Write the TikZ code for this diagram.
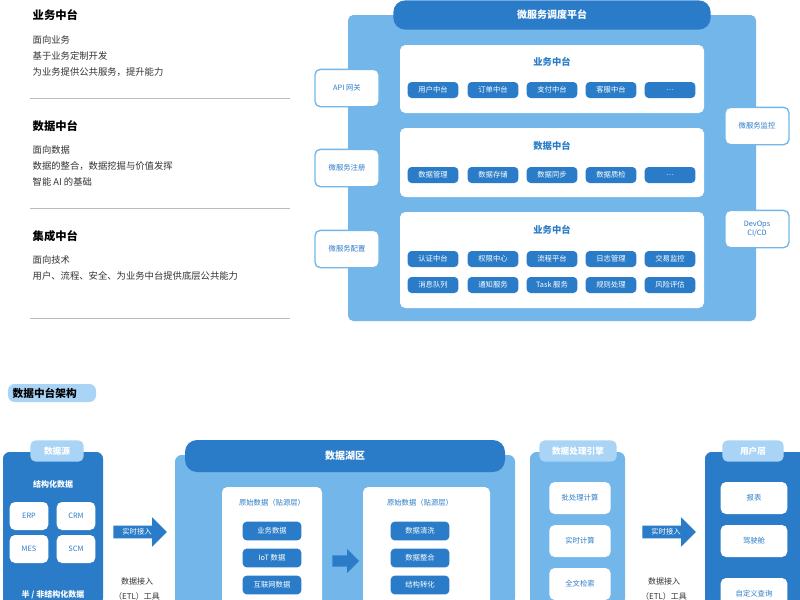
\documentclass[tikz,border=0pt]{standalone}
\usepackage{fontspec}
\setmainfont{Noto Sans CJK SC}
\usetikzlibrary{shapes.arrows}
\definecolor{dk}{HTML}{2A7CC8}
\definecolor{lt}{HTML}{72B6EA}
\definecolor{lt2}{HTML}{A9D4F5}
\definecolor{txt}{HTML}{333333}
\definecolor{gl}{HTML}{BBBBBB}
\begin{document}
\begin{tikzpicture}[x=0.75pt,y=-0.75pt,
 hd/.style={font=\fontsize{8.5}{10}\selectfont\bfseries,text=black,anchor=west},
 bd/.style={font=\fontsize{7}{9}\selectfont,text=txt,anchor=west},
 pill/.style={fill=dk,rounded corners=9pt,text=white,font=\fontsize{7.5}{9}\selectfont\bfseries},
 chip/.style={fill=dk,rounded corners=3pt,minimum width=38pt,minimum height=12pt,inner sep=0pt,text=white,font=\fontsize{5.5}{7}\selectfont},
 wp/.style={fill=white,rounded corners=4pt},
 ptitle/.style={text=dk,font=\fontsize{7}{9}\selectfont\bfseries},
 side/.style={draw=lt,line width=1pt,fill=white,rounded corners=4pt,minimum width=48pt,minimum height=28pt,text=dk,font=\fontsize{5.5}{7}\selectfont,align=center,inner sep=1pt},
 wb/.style={fill=white,rounded corners=4pt,minimum width=46pt,minimum height=24pt,text=dk,font=\fontsize{5.5}{7}\selectfont,inner sep=0pt},
 tab/.style={fill=lt2,rounded corners=4pt,text=white,font=\fontsize{6.5}{8}\selectfont\bfseries,inner sep=0pt},
 arr/.style={single arrow,fill=dk,single arrow head extend=5pt,minimum height=40pt,minimum width=22pt,inner sep=1pt,text=white,font=\fontsize{5.5}{7}\selectfont},
 lbl/.style={font=\fontsize{6}{8}\selectfont,text=txt}]
\useasboundingbox (0,0) rectangle (800,600);
\fill[white] (0,0) rectangle (800,600);
% left text
\node[hd] (h1) at (28,15) {业务中台};
\node[bd] (t11) at (28,40) {面向业务};
\node[bd] (t12) at (28,56) {基于业务定制开发};
\node[bd] (t13) at (28,72) {为业务提供公共服务，提升能力};
\draw[gl] (30,98) -- (290,98);
\node[hd] (h2) at (28,126) {数据中台};
\node[bd] (t21) at (28,150) {面向数据};
\node[bd] (t22) at (28,166) {数据的整合，数据挖掘与价值发挥};
\node[bd] (t23) at (28,182) {智能 AI 的基础};
\draw[gl] (30,208) -- (290,208);
\node[hd] (h3) at (28,236) {集成中台};
\node[bd] (t31) at (28,260) {面向技术};
\node[bd] (t32) at (28,276) {用户、流程、安全、为业务中台提供底层公共能力};
\draw[gl] (30,318) -- (290,318);
% top right
\fill[lt,rounded corners=4pt] (348,15) rectangle (756,321);
\node[pill,minimum width=238pt,minimum height=22pt] (mp) at (552,15) {微服务调度平台};
\fill[wp] (400,45) rectangle (704,113);
\fill[wp] (400,128) rectangle (704,197);
\fill[wp] (400,212) rectangle (704,308);
\node[ptitle] (p1) at (552,62) {业务中台};
\node[ptitle] (p2) at (552,146) {数据中台};
\node[ptitle] (p3) at (552,230) {业务中台};
\foreach \x/\t [count=\i] in {433/用户中台,493/订单中台,552/支付中台,611/客服中台,670/…}
  \node[chip] (a\i) at (\x,90) {\t};
\foreach \x/\t [count=\i] in {433/数据管理,493/数据存储,552/数据同步,611/数据质检,670/…}
  \node[chip] (b\i) at (\x,175) {\t};
\foreach \x/\t [count=\i] in {433/认证中台,493/权限中心,552/流程平台,611/日志管理,670/交易监控}
  \node[chip] (c\i) at (\x,259) {\t};
\foreach \x/\t [count=\i] in {433/消息队列,493/通知服务,552/Task 服务,611/规则处理,670/风险评估}
  \node[chip] (d\i) at (\x,285) {\t};
\node[side] (s1) at (347,88) {API 网关};
\node[side] (s2) at (347,168) {微服务注册};
\node[side] (s3) at (347,249) {微服务配置};
\node[side] (s4) at (757,126) {微服务监控};
\node[side] (s5) at (757,229) {DevOps\\CI/CD};
% bottom
\fill[lt2,rounded corners=5pt] (8,384) rectangle (96,402);
\node[font=\fontsize{8}{10}\selectfont\bfseries,anchor=west] (bt) at (8,393) {数据中台架构};
% data source
\fill[dk,rounded corners=5pt] (3,452) rectangle (103,605);
\node[tab,minimum width=40pt,minimum height=16pt] (ds) at (57,451) {数据源};
\node[text=white,font=\fontsize{6}{8}\selectfont\bfseries] (st) at (53,484) {结构化数据};
\node[wb,minimum width=29pt,minimum height=21pt] (erp) at (29,516) {ERP};
\node[wb,minimum width=29pt,minimum height=21pt] (crm) at (76,516) {CRM};
\node[wb,minimum width=29pt,minimum height=21pt] (mes) at (29,549) {MES};
\node[wb,minimum width=29pt,minimum height=21pt] (scm) at (76,549) {SCM};
\node[text=white,font=\fontsize{6}{8}\selectfont\bfseries] (ns) at (53,595) {半 / 非结构化数据};
\node[arr] (ar1) at (137,532) {实时接入};
\node[lbl] (l1) at (137,581) {数据接入};
\node[lbl] (l2) at (137,596) {（ETL）工具};
% lake
\fill[lt,rounded corners=5pt] (175,455) rectangle (515,605);
\node[pill,minimum width=240pt,minimum height=24pt] (lake) at (345,456) {数据湖区};
\fill[wp] (222,487) rectangle (322,605);
\fill[wp] (363,487) rectangle (490,605);
\node[ptitle,font=\fontsize{5.5}{7}\selectfont] (r1) at (272,503) {原始数据（贴源层）};
\node[ptitle,font=\fontsize{5.5}{7}\selectfont] (r2) at (420,503) {原始数据（贴源层）};
\foreach \y/\t [count=\i] in {531/业务数据,558/IoT 数据,585/互联网数据}
  \node[chip,minimum width=44pt,minimum height=14pt] (e\i) at (272,\y) {\t};
\foreach \y/\t [count=\i] in {531/数据清洗,558/数据整合,585/结构转化}
  \node[chip,minimum width=44pt,minimum height=14pt] (f\i) at (420,\y) {\t};
\node[single arrow,fill=dk,minimum height=20pt,minimum width=18pt,single arrow head extend=4pt] (mid) at (343,561) {};
% engine
\fill[lt,rounded corners=5pt] (530,452) rectangle (625,605);
\node[tab,minimum width=58pt,minimum height=16pt] (eng) at (578,451) {数据处理引擎};
\node[wb] (g1) at (580,498) {批处理计算};
\node[wb] (g2) at (580,541) {实时计算};
\node[wb] (g3) at (580,584) {全文检索};
\node[arr] (ar2) at (666,532) {实时接入};
\node[lbl] (l3) at (664,581) {数据接入};
\node[lbl] (l4) at (664,596) {（ETL）工具};
% user
\fill[dk,rounded corners=5pt] (705,452) rectangle (805,605);
\node[tab,minimum width=46pt,minimum height=16pt] (us) at (753,451) {用户层};
\node[wb,minimum width=50pt] (u1) at (754,498) {报表};
\node[wb,minimum width=50pt] (u2) at (754,541) {驾驶舱};
\node[wb,minimum width=50pt] (u3) at (754,594) {自定义查询};
\end{tikzpicture}
\end{document}
